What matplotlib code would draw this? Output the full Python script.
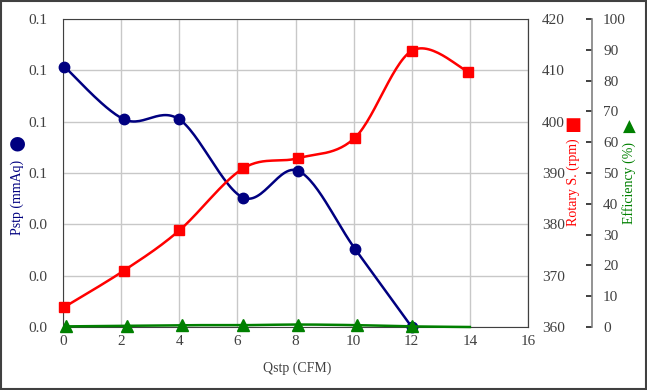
import numpy as np
import matplotlib
matplotlib.use("Agg")
import matplotlib.pyplot as plt
from matplotlib.ticker import FormatStrFormatter, MultipleLocator
from matplotlib.patches import Rectangle

# data
q_pstp = [0.05, 2.1, 4.0, 6.2, 8.1, 10.05, 12.0]
pstp = [0.1014, 0.0809, 0.0809, 0.0504, 0.0608, 0.0304, 0.0]

q_rpm = [0.05, 2.1, 4.0, 6.2, 8.1, 10.05, 12.0, 13.95]
rpm = [363.9, 371.0, 378.8, 390.9, 392.9, 396.9, 413.8, 409.7]

q_eff = [0.1, 2.2, 4.1, 6.2, 8.1, 10.1, 12.0, 14.0]
eff = [0.2, 0.4, 0.6, 0.6, 0.8, 0.6, 0.2, 0.0]

x_ticks = list(range(0, 17, 2))

NAVY = "#000080"
RED = "#FF0000"
GREEN = "#008000"
TXT = "#404040"


def smooth(xs, ys, n=30):
    # excel style smoothed line (catmull-rom as cubic bezier)
    xs = np.asarray(xs, float)
    ys = np.asarray(ys, float)
    px, py = [], []
    m = len(xs)
    t = np.linspace(0, 1, n)
    for i in range(m - 1):
        i0 = max(i - 1, 0)
        i3 = min(i + 2, m - 1)
        p1 = np.array([xs[i], ys[i]])
        p2 = np.array([xs[i + 1], ys[i + 1]])
        c1 = p1 + (p2 - np.array([xs[i0], ys[i0]])) / 6
        c2 = p2 - (np.array([xs[i3], ys[i3]]) - p1) / 6
        b = ((1 - t) ** 3)[:, None] * p1 + (3 * (1 - t) ** 2 * t)[:, None] * c1 \
            + (3 * (1 - t) * t ** 2)[:, None] * c2 + (t ** 3)[:, None] * p2
        px.extend(b[:, 0])
        py.extend(b[:, 1])
    return px, py


plt.rcParams["font.family"] = ["Liberation Serif", "DejaVu Serif"]

fig = plt.figure(figsize=(6.47, 3.9), dpi=100)
ax = fig.add_axes([63 / 647, 1 - 327 / 390, 465 / 647, 308 / 390])
ax2 = ax.twinx()
ax3 = ax.twinx()
ax3.spines["right"].set_position(("axes", (592 - 63) / 465))

# Pstp
sx, sy = smooth(q_pstp, pstp)
ax.plot(sx, sy, color=NAVY, lw=1.8, zorder=3, clip_on=False)
ax.plot(q_pstp, pstp, "o", color=NAVY, ms=7.5, zorder=4, clip_on=False)
ax.set_xlim(0, 16)
ax.set_ylim(0, 0.12)
ax.xaxis.set_major_locator(MultipleLocator(2))
ax.yaxis.set_major_locator(MultipleLocator(0.02))
ax.yaxis.set_major_formatter(FormatStrFormatter("%.1f"))
ax.set_xticks(x_ticks)
ax.grid(True, color="#C8C8C8", lw=1)
ax.set_axisbelow(True)
ax.tick_params(axis="both", length=0, labelsize=11, labelcolor=TXT)
ax.tick_params(axis="y", pad=11)
ax.tick_params(axis="x", pad=6)
for s in ax.spines.values():
    s.set_color("#404040")

# rotary speed
sx, sy = smooth(q_rpm, rpm)
ax2.plot(sx, sy, color=RED, lw=1.8, zorder=3)
ax2.plot(q_rpm, rpm, "s", color=RED, ms=7.5, zorder=4, clip_on=False)
ax2.set_ylim(360, 420)
ax2.yaxis.set_major_locator(MultipleLocator(10))
ax2.tick_params(axis="y", length=0, labelsize=11, labelcolor=TXT, pad=10)
ax2.spines["right"].set_color("#404040")

# efficiency
sx, sy = smooth(q_eff, eff)
ax3.plot(sx, sy, color=GREEN, lw=1.8, zorder=3, clip_on=False)
ax3.plot(q_eff[:-1], eff[:-1], "^", color=GREEN, ms=8, zorder=4, clip_on=False)
ax3.set_ylim(0, 100)
ax3.yaxis.set_major_locator(MultipleLocator(10))
ax3.tick_params(axis="y", direction="in", length=4, width=1.2, color="#202020",
                labelsize=11, labelcolor=TXT, pad=8)
ax3.spines["right"].set_color("#808080")
ax3.spines["right"].set_linewidth(1.2)
for s in ["left", "top", "bottom"]:
    ax3.spines[s].set_visible(False)
    ax2.spines[s].set_visible(False)

# axis titles with their marker symbols
fig.text(297 / 647, 1 - 368 / 390, "Qstp (CFM)", ha="center", va="center",
         fontsize=10, color=TXT)
fig.text(17 / 647, 1 - 197 / 390, "Pstp (mmAq)", rotation=90, ha="center",
         va="center", fontsize=10, color=NAVY)
fig.text(17 / 647, 1 - 143 / 390, "\u25cf", ha="center", va="center",
         fontsize=14, color=NAVY, family="DejaVu Sans")
fig.text(573 / 647, 1 - 182 / 390, "Rotary S. (rpm)", rotation=90, ha="center",
         va="center", fontsize=10, color=RED)
fig.text(573 / 647, 1 - 125 / 390, "\u25a0", ha="center", va="center",
         fontsize=13, color=RED, family="DejaVu Sans")
fig.text(629 / 647, 1 - 183 / 390, "Efficiency (%)", rotation=90, ha="center",
         va="center", fontsize=10, color=GREEN)
fig.text(629 / 647, 1 - 127 / 390, "\u25b2", ha="center", va="center",
         fontsize=12, color=GREEN, family="DejaVu Sans")

# chart border
fig.patches.append(Rectangle((0.002, 0.003), 0.996, 0.994, transform=fig.transFigure,
                             fill=False, edgecolor="#404040", lw=1.5))

fig.savefig("out.png", dpi=100)
